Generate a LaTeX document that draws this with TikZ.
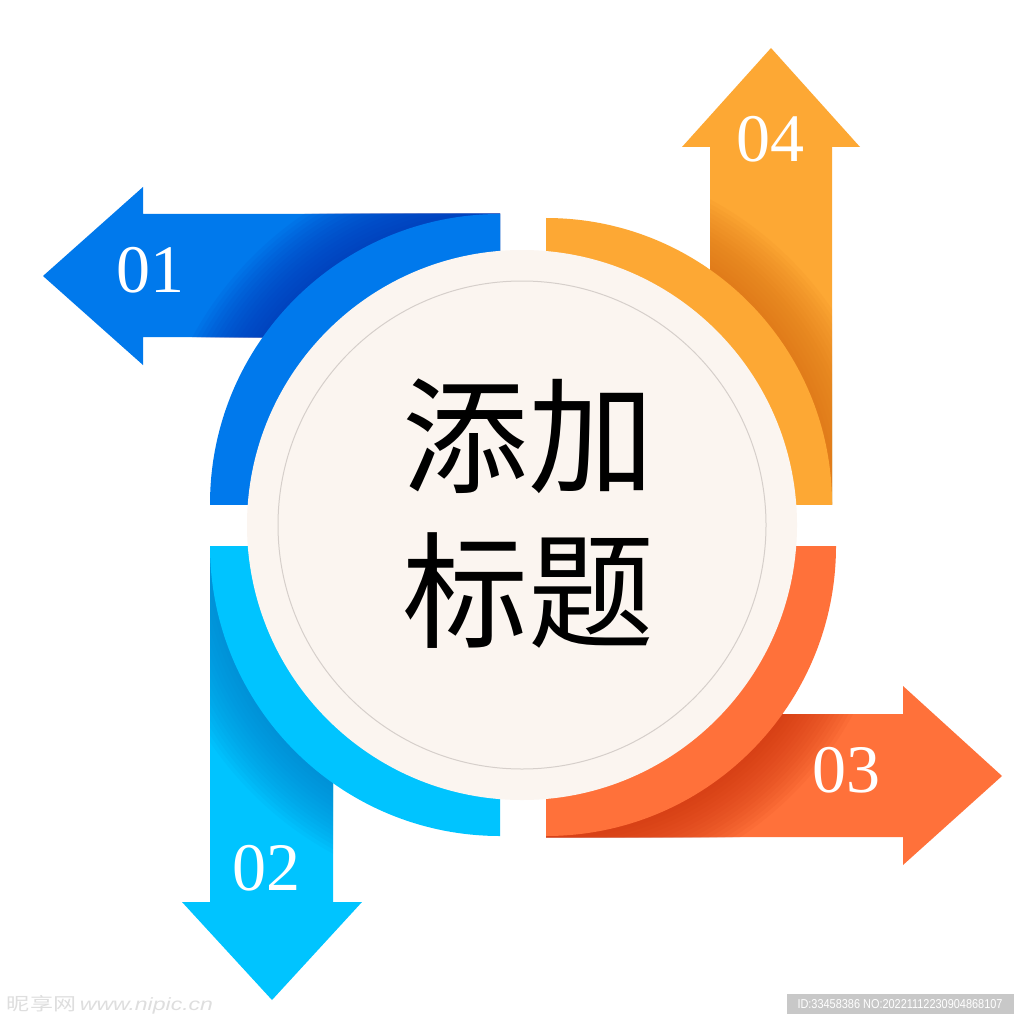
\documentclass[tikz,border=0pt]{standalone}
\usepackage{fontspec}
\usepackage{graphicx}
\setmainfont{Liberation Serif}
\newfontfamily\cjkfont{Noto Sans CJK SC}
\newfontfamily\wmsans{Liberation Sans}
\definecolor{cA}{HTML}{0079EC}
\definecolor{cAs}{HTML}{0030B0}
\definecolor{cB}{HTML}{00C4FF}
\definecolor{cBs}{HTML}{0080CC}
\definecolor{cC}{HTML}{FF713A}
\definecolor{cCs}{HTML}{CC300A}
\definecolor{cD}{HTML}{FDA834}
\definecolor{cDs}{HTML}{D86E12}
\definecolor{hub}{HTML}{FBF5F0}
\definecolor{hubline}{HTML}{D6CFCB}
\definecolor{wmbox}{HTML}{C8C8C8}
\definecolor{wmtext}{HTML}{DEDEDE}
\begin{document}
\begin{tikzpicture}[x=1pt,y=-1pt,
  numlabel/.style={text=white,inner sep=0pt,font=\fontsize{68}{68}\selectfont},
  titlerow/.style={text=black,inner sep=0pt,font=\cjkfont\fontsize{126}{126}\selectfont},
  shadowlayer/.style={opacity=0.07}]
\useasboundingbox (0,0) rectangle (1024,1024);
\fill[white] (0,0) rectangle (1024,1024);

% ---- arrow 01 (left, blue)
\fill[cA] (500,214) -- (143,214) -- (143,187) -- (43,276) -- (143,365) -- (143,337) -- (500,337) -- cycle;
\begin{scope}
  \clip (143,214) rectangle (500,337);
  \foreach \k in {1,...,15} {\fill[cAs,shadowlayer] (500,504) circle[radius={290pt+4pt*\k}];}
\end{scope}
% ---- arrow 02 (down, light blue)
\fill[cB] (210,546) -- (210,902) -- (182,902) -- (272,1000) -- (362,902) -- (333,902) -- (333,546) -- cycle;
\begin{scope}
  \clip (210,546) rectangle (333,902);
  \foreach \k in {1,...,15} {\fill[cBs,shadowlayer] (500,546) circle[radius={290pt+4pt*\k}];}
\end{scope}
% ---- arrow 03 (right, orange-red)
\fill[cC] (546,714) -- (903,714) -- (903,686) -- (1002,776) -- (903,865) -- (903,837) -- (546,837) -- cycle;
\begin{scope}
  \clip (546,714) rectangle (903,837);
  \foreach \k in {1,...,15} {\fill[cCs,shadowlayer] (546,546) circle[radius={290pt+4pt*\k}];}
\end{scope}
% ---- arrow 04 (up, orange)
\fill[cD] (710,504) -- (710,147) -- (682,147) -- (771,48) -- (860,147) -- (832,147) -- (832,504) -- cycle;
\begin{scope}
  \clip (710,147) rectangle (832,504);
  \foreach \k in {1,...,15} {\fill[cDs,shadowlayer] (546,504) circle[radius={286pt+4pt*\k}];}
\end{scope}

% ---- quarter disks
\begin{scope}
  \clip (200,204) rectangle (500,504);
  \fill[cA] (500,504) circle[radius=290pt];
\end{scope}
\begin{scope}
  \clip (546,204) rectangle (846,504);
  \fill[cD] (546,504) circle[radius=286pt];
\end{scope}
\begin{scope}
  \clip (546,546) rectangle (846,846);
  \fill[cC] (546,546) circle[radius=290pt];
\end{scope}
\begin{scope}
  \clip (200,546) rectangle (500,846);
  \fill[cB] (500,546) circle[radius=290pt];
\end{scope}

% ---- hub
\fill[hub] (522,525) circle[radius=275pt];
\draw[hubline,line width=1pt] (522,525) circle[radius=244pt];

\node[titlerow] (t1) at (528,436) {添加};
\node[titlerow] (t2) at (528,591) {标题};

\node[numlabel] (n1) at (150,270) {01};
\node[numlabel] (n2) at (266,868) {02};
\node[numlabel] (n3) at (846,770) {03};
\node[numlabel] (n4) at (770,139) {04};

% ---- watermark
\node[inner sep=0pt,text=wmtext] (wm) at (110,1005) {\resizebox{206pt}{15pt}{\cjkfont 昵享网\,\wmsans\itshape www.nipic.cn}};
\fill[wmbox] (787,994) rectangle (1014,1014);
\node[inner sep=0pt,text=white] (wid) at (900,1004) {\resizebox{205pt}{9pt}{\wmsans ID:33458386 NO:20221112230904868107}};
\end{tikzpicture}
\end{document}
